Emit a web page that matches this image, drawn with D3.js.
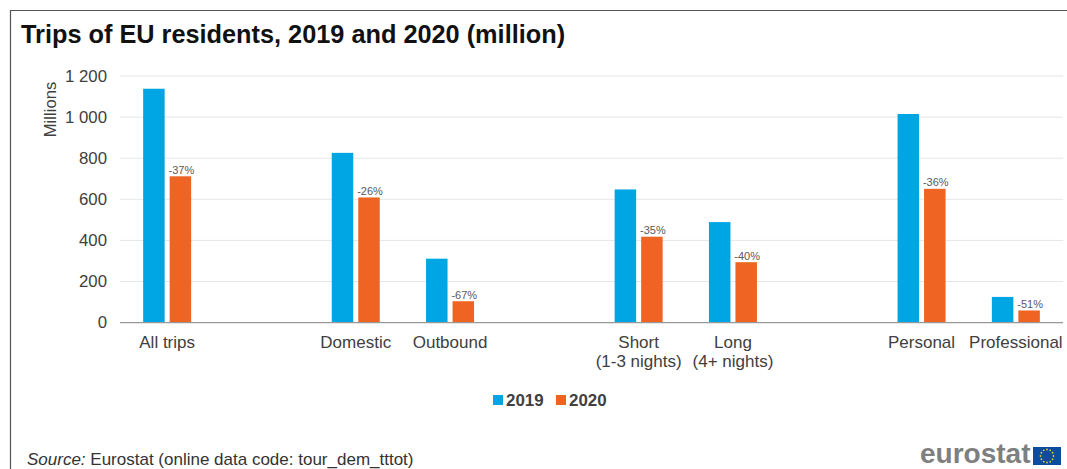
<!DOCTYPE html>
<html>
<head>
<meta charset="utf-8">
<script src="https://cdn.jsdelivr.net/npm/d3@7"></script>
<style>
  html, body { margin: 0; padding: 0; background: #fff; }
  svg { display: block; font-family: "Liberation Sans", Arial, sans-serif; }
</style>
</head>
<body>
<svg id="chart" width="1067" height="469"></svg>
<script>
// Blank slots in the category list separate the groups of bars.
const slots = ["All trips", "gap1", "Domestic", "Outbound", "gap2", "Short", "Long", "gap3", "Personal", "Professional"];
const categories = ["All trips", "Domestic", "Outbound", "Short", "Long", "Personal", "Professional"];
const categoryLines = [["All trips"], ["Domestic"], ["Outbound"], ["Short", "(1-3 nights)"], ["Long", "(4+ nights)"], ["Personal"], ["Professional"]];
const seriesNames = ["2019", "2020"];
const values2019 = [1138, 826, 311, 648, 489, 1015, 125];
const values2020 = [712, 609, 104, 418, 294, 651, 59];
const changeLabels = ["-37%", "-26%", "-67%", "-35%", "-40%", "-36%", "-51%"];
const yTicks = [0, 200, 400, 600, 800, 1000, 1200];
const colors = ["#00a5e3", "#f06423"];

const svg = d3.select("#chart");
const plot = { left: 120, right: 1063, top: 76, bottom: 322.6 };

const x = d3.scaleBand().domain(slots).range([plot.left, plot.right]);
const y = d3.scaleLinear().domain([0, 1200]).range([plot.bottom, plot.top]);
const barWidth = 21.5, barGap = 5;
const inner = d3.scaleOrdinal().domain(seriesNames).range([-(barWidth + barGap / 2), barGap / 2]);

// Outer frame: top and left rules only
svg.append("path").attr("d", "M10.5,469V10.5H1067").attr("fill", "none").attr("stroke", "#555").attr("stroke-width", 1.2);

svg.append("text").attr("x", 21).attr("y", 42.5).attr("font-size", 25.3).attr("font-weight", 700).attr("fill", "#111")
  .text("Trips of EU residents, 2019 and 2020 (million)");

// Value axis with thousands separated by a space
const yAxis = d3.axisLeft(y).tickValues(yTicks).tickSize(0).tickPadding(13)
  .tickFormat(d => d >= 1000 ? `${Math.floor(d / 1000)} ${String(d % 1000).padStart(3, "0")}` : d);
const yG = svg.append("g").attr("transform", `translate(${plot.left},0)`).call(yAxis);
yG.select(".domain").remove();
yG.selectAll("text").attr("font-size", 16.8).attr("fill", "#404040").attr("font-family", "Liberation Sans");

svg.append("g").selectAll("line").data(yTicks.filter(d => d > 0)).join("line")
  .attr("x1", plot.left).attr("x2", plot.right)
  .attr("y1", d => y(d)).attr("y2", d => y(d))
  .attr("stroke", "#e6e6e6").attr("stroke-width", 1);

svg.append("text").attr("transform", "translate(56,109.5) rotate(-90)")
  .attr("text-anchor", "middle").attr("font-size", 16.7).attr("fill", "#404040").text("Millions");

// Paired bars
[values2019, values2020].forEach((vals, s) => {
  svg.append("g").selectAll("rect").data(vals).join("rect")
    .attr("x", (d, i) => x(categories[i]) + x.bandwidth() / 2 + inner(seriesNames[s]))
    .attr("width", barWidth)
    .attr("y", d => y(d))
    .attr("height", d => y(0) - y(d))
    .attr("fill", colors[s]);
});

// Percentage change above the 2020 bars
svg.append("g").selectAll("text").data(values2020).join("text")
  .attr("x", (d, i) => x(categories[i]) + x.bandwidth() / 2 + inner("2020") + barWidth / 2 + 1)
  .attr("y", d => y(d) - 2.5)
  .attr("text-anchor", "middle").attr("font-size", 11).attr("fill", "#595959")
  .text((d, i) => changeLabels[i]);

svg.append("line").attr("x1", plot.left).attr("x2", plot.right)
  .attr("y1", y(0)).attr("y2", y(0)).attr("stroke", "#999").attr("stroke-width", 1.2);

// Category labels, some on two lines
const labels = svg.append("g").selectAll("text").data(categoryLines).join("text")
  .attr("text-anchor", "middle").attr("font-size", 17).attr("fill", "#404040");
labels.selectAll("tspan").data((d, i) => d.map(t => ({ t, i }))).join("tspan")
  .attr("x", d => x(categories[d.i]) + x.bandwidth() / 2)
  .attr("y", (d, j) => 348 + j * 19)
  .text(d => d.t);

// Legend
const legendX = d3.scaleOrdinal().domain(seriesNames).range([493, 556]);
const legend = svg.append("g").selectAll("g").data(seriesNames).join("g")
  .attr("transform", d => `translate(${legendX(d)},395)`);
legend.append("rect").attr("width", 10).attr("height", 10).attr("fill", (d, i) => colors[i]);
legend.append("text").attr("x", 13).attr("y", 11).attr("font-size", 16.9).attr("font-weight", 700).attr("fill", "#404040").text(d => d);

// Source note
const source = svg.append("text").attr("x", 27).attr("y", 465).attr("font-size", 17).attr("fill", "#333");
source.append("tspan").attr("font-style", "italic").text("Source:");
source.append("tspan").text(" Eurostat (online data code: tour_dem_tttot)");

// Wordmark and flag
svg.append("text").attr("x", 920).attr("y", 463).attr("font-size", 28).attr("font-weight", 700).attr("fill", "#7f7f7f").text("eurostat");
svg.append("rect").attr("x", 1033).attr("y", 447).attr("width", 28).attr("height", 18).attr("fill", "#0f4c9e");
const stars = d3.range(12).map(i => i * Math.PI / 6);
svg.append("g").selectAll("circle").data(stars).join("circle")
  .attr("cx", d => 1047 + 6.5 * Math.cos(d)).attr("cy", d => 456 + 6.5 * Math.sin(d))
  .attr("r", 0.9).attr("fill", "#d7c93a");
</script>
</body>
</html>
